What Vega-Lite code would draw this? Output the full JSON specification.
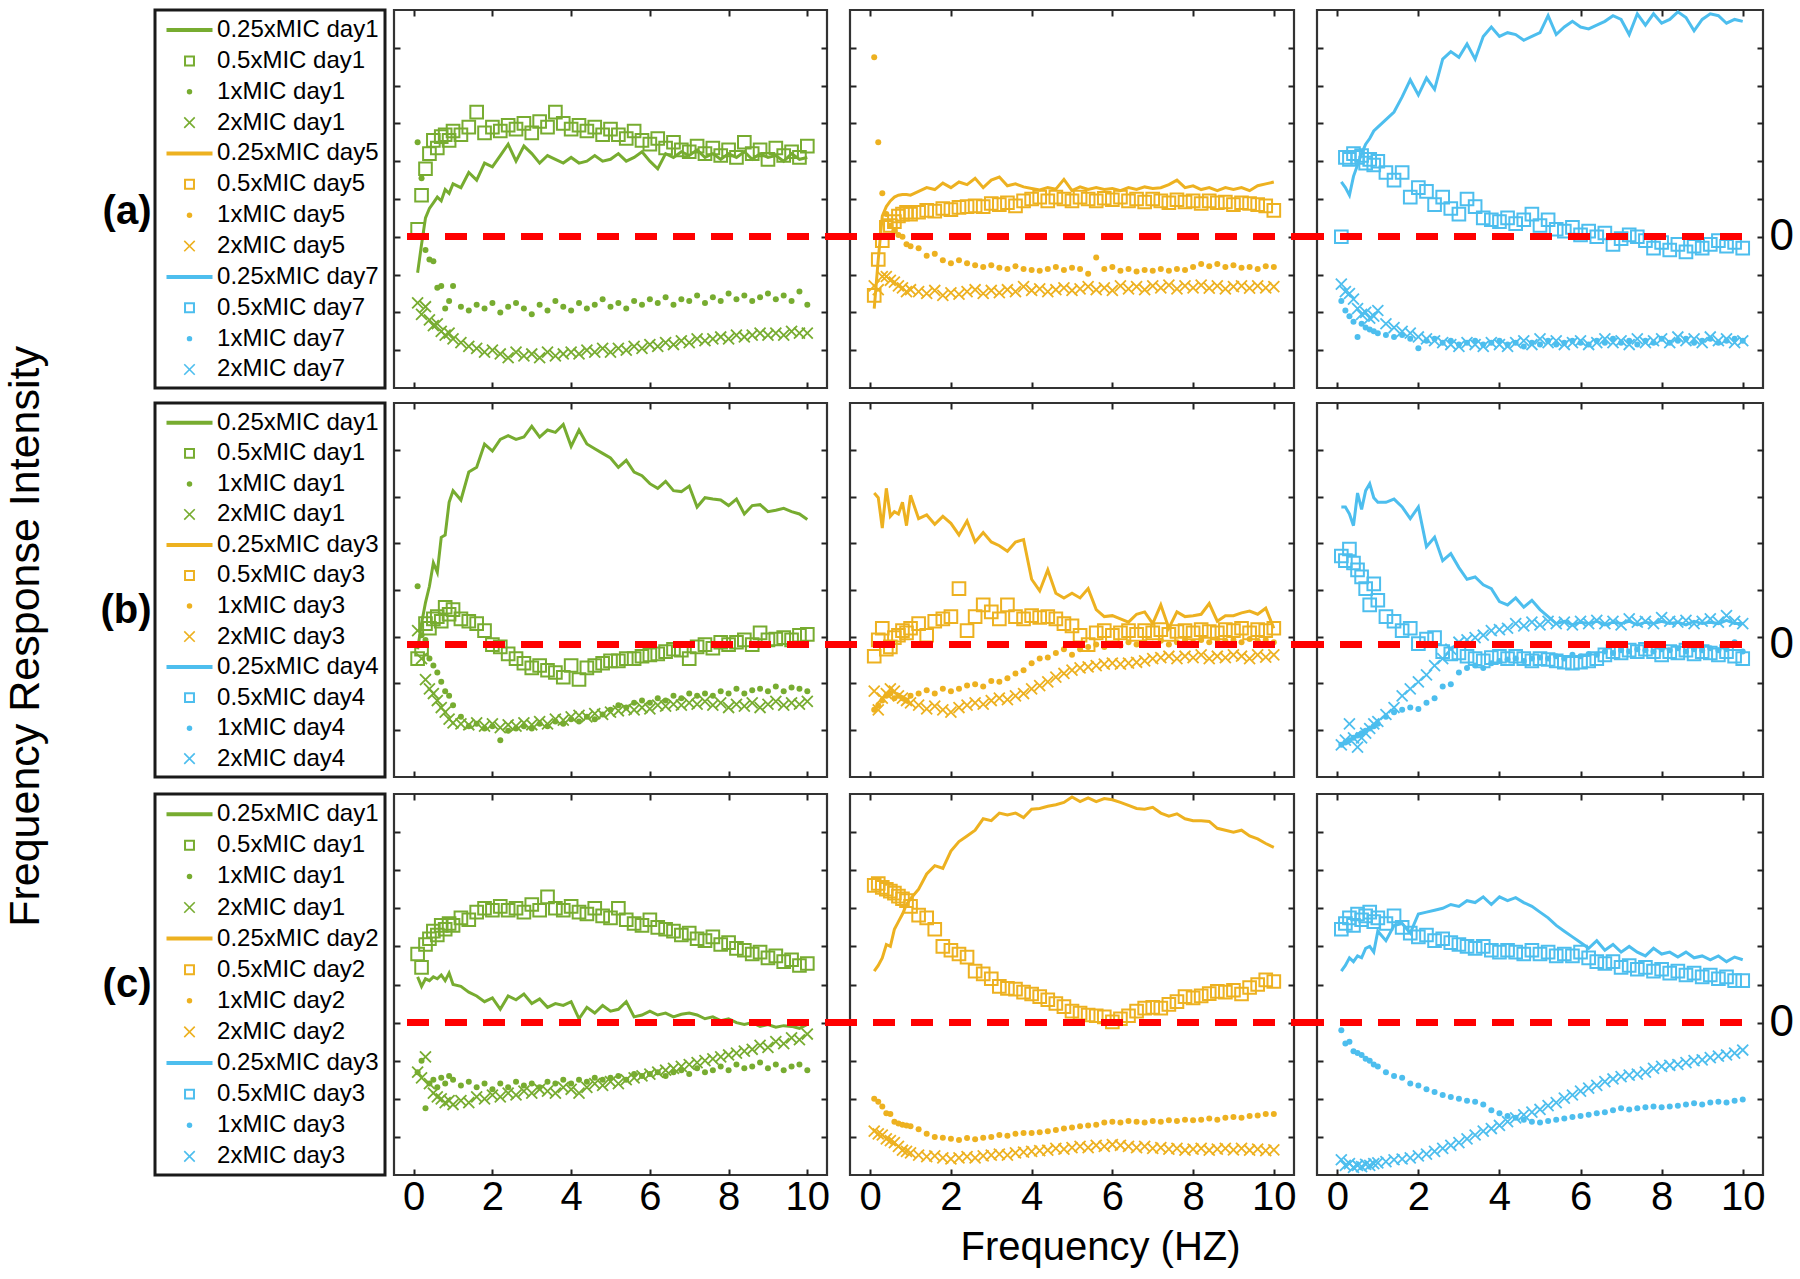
{
"$schema":"https://vega.github.io/schema/vega-lite/v6.json",
"padding":{"left":5,"top":4,"right":0,"bottom":0},
"config":{"font":"Liberation Sans","view":{"stroke":"#333333","strokeWidth":2.2},
"axis":{"domain":false,"grid":false,"labels":false,"ticks":true,"tickSize":-6,"tickWidth":2,"tickColor":"#222222","minExtent":0,"labelColor":"#000000","titleColor":"#000000","labelFont":"Liberation Sans","titleFont":"Liberation Sans"}},
"title":{"text":"Frequency Response Intensity","orient":"left","anchor":"middle","fontSize":43,"fontWeight":"normal","offset":50,"color":"#000000"},
"datasets":{
"legA":[{"i":0,"label":"0.25xMIC day1","kind":"line","set":"left"},{"i":1,"label":"0.5xMIC day1","kind":"square","set":"left"},{"i":2,"label":"1xMIC day1","kind":"dot","set":"left"},{"i":3,"label":"2xMIC day1","kind":"cross","set":"left"},{"i":4,"label":"0.25xMIC day5","kind":"line","set":"middle"},{"i":5,"label":"0.5xMIC day5","kind":"square","set":"middle"},{"i":6,"label":"1xMIC day5","kind":"dot","set":"middle"},{"i":7,"label":"2xMIC day5","kind":"cross","set":"middle"},{"i":8,"label":"0.25xMIC day7","kind":"line","set":"right"},{"i":9,"label":"0.5xMIC day7","kind":"square","set":"right"},{"i":10,"label":"1xMIC day7","kind":"dot","set":"right"},{"i":11,"label":"2xMIC day7","kind":"cross","set":"right"}],
"legB":[{"i":0,"label":"0.25xMIC day1","kind":"line","set":"left"},{"i":1,"label":"0.5xMIC day1","kind":"square","set":"left"},{"i":2,"label":"1xMIC day1","kind":"dot","set":"left"},{"i":3,"label":"2xMIC day1","kind":"cross","set":"left"},{"i":4,"label":"0.25xMIC day3","kind":"line","set":"middle"},{"i":5,"label":"0.5xMIC day3","kind":"square","set":"middle"},{"i":6,"label":"1xMIC day3","kind":"dot","set":"middle"},{"i":7,"label":"2xMIC day3","kind":"cross","set":"middle"},{"i":8,"label":"0.25xMIC day4","kind":"line","set":"right"},{"i":9,"label":"0.5xMIC day4","kind":"square","set":"right"},{"i":10,"label":"1xMIC day4","kind":"dot","set":"right"},{"i":11,"label":"2xMIC day4","kind":"cross","set":"right"}],
"legC":[{"i":0,"label":"0.25xMIC day1","kind":"line","set":"left"},{"i":1,"label":"0.5xMIC day1","kind":"square","set":"left"},{"i":2,"label":"1xMIC day1","kind":"dot","set":"left"},{"i":3,"label":"2xMIC day1","kind":"cross","set":"left"},{"i":4,"label":"0.25xMIC day2","kind":"line","set":"middle"},{"i":5,"label":"0.5xMIC day2","kind":"square","set":"middle"},{"i":6,"label":"1xMIC day2","kind":"dot","set":"middle"},{"i":7,"label":"2xMIC day2","kind":"cross","set":"middle"},{"i":8,"label":"0.25xMIC day3","kind":"line","set":"right"},{"i":9,"label":"0.5xMIC day3","kind":"square","set":"right"},{"i":10,"label":"1xMIC day3","kind":"dot","set":"right"},{"i":11,"label":"2xMIC day3","kind":"cross","set":"right"}],
"a1":[
{"x":0.1,"m025":-0.95,"m05":0.2,"m1":2.5,"m2":-1.75},{"x":0.2,"m025":-0.2,"m05":1.1,"m1":1.55,"m2":-2.05},{"x":0.3,"m025":0.5,"m05":1.8,"m1":-0.35,"m2":-1.85},{"x":0.4,"m025":0.75,"m05":2.2,"m1":-0.6,"m2":-2.2},{"x":0.5,"m025":0.9,"m05":2.55,"m1":-0.65,"m2":-2.35},{"x":0.6,"m025":1.05,"m05":2.35,"m1":-1.35,"m2":-2.3},{"x":0.7,"m025":0.95,"m05":2.65,"m1":-1.3,"m2":-2.5},{"x":0.8,"m025":1.25,"m05":2.7,"m1":-1.9,"m2":-2.6},{"x":0.9,"m025":1.15,"m05":2.55,"m1":-1.7,"m2":-2.55},{"x":1,"m025":1.4,"m05":2.8,"m1":-1.3,"m2":-2.7},
{"x":1.2,"m025":1.3,"m05":2.7,"m1":-1.85,"m2":-2.8},{"x":1.4,"m025":1.7,"m05":2.9,"m1":-1.95,"m2":-2.9},{"x":1.6,"m025":1.5,"m05":3.3,"m1":-1.8,"m2":-2.95},{"x":1.8,"m025":1.95,"m05":2.75,"m1":-1.9,"m2":-3.05},{"x":2,"m025":1.85,"m05":2.9,"m1":-1.75,"m2":-3.0},{"x":2.2,"m025":2.15,"m05":2.8,"m1":-2.0,"m2":-3.1},{"x":2.4,"m025":2.45,"m05":2.95,"m1":-1.85,"m2":-3.2},{"x":2.6,"m025":2.0,"m05":2.85,"m1":-1.75,"m2":-3.05},{"x":2.8,"m025":2.4,"m05":3.0,"m1":-1.9,"m2":-3.15},{"x":3,"m025":2.2,"m05":2.75,"m1":-2.05,"m2":-3.1},
{"x":3.2,"m025":1.95,"m05":3.05,"m1":-1.8,"m2":-3.2},{"x":3.4,"m025":2.15,"m05":2.9,"m1":-1.95,"m2":-3.05},{"x":3.6,"m025":2.05,"m05":3.3,"m1":-1.7,"m2":-3.15},{"x":3.8,"m025":1.95,"m05":3.0,"m1":-1.85,"m2":-3.1},{"x":4,"m025":2.1,"m05":2.85,"m1":-1.95,"m2":-3.05},{"x":4.2,"m025":1.95,"m05":2.95,"m1":-1.75,"m2":-3.1},{"x":4.4,"m025":2.0,"m05":2.8,"m1":-1.9,"m2":-3.0},{"x":4.6,"m025":2.15,"m05":2.9,"m1":-1.8,"m2":-3.05},{"x":4.8,"m025":2.0,"m05":2.7,"m1":-1.65,"m2":-2.95},{"x":5,"m025":2.05,"m05":2.85,"m1":-1.85,"m2":-3.05},
{"x":5.2,"m025":2.2,"m05":2.7,"m1":-1.75,"m2":-2.95},{"x":5.4,"m025":2.0,"m05":2.6,"m1":-1.9,"m2":-3.0},{"x":5.6,"m025":2.1,"m05":2.8,"m1":-1.7,"m2":-2.9},{"x":5.8,"m025":2.25,"m05":2.55,"m1":-1.8,"m2":-2.95},{"x":6,"m025":2.0,"m05":2.45,"m1":-1.65,"m2":-2.85},{"x":6.2,"m025":1.8,"m05":2.6,"m1":-1.75,"m2":-2.9},{"x":6.4,"m025":2.2,"m05":2.35,"m1":-1.6,"m2":-2.8},{"x":6.6,"m025":2.1,"m05":2.5,"m1":-1.8,"m2":-2.85},{"x":6.8,"m025":2.25,"m05":2.3,"m1":-1.65,"m2":-2.75},{"x":7,"m025":2.15,"m05":2.25,"m1":-1.7,"m2":-2.8},
{"x":7.2,"m025":2.3,"m05":2.4,"m1":-1.55,"m2":-2.7},{"x":7.4,"m025":2.1,"m05":2.2,"m1":-1.75,"m2":-2.75},{"x":7.6,"m025":2.2,"m05":2.35,"m1":-1.6,"m2":-2.7},{"x":7.8,"m025":2.05,"m05":2.15,"m1":-1.7,"m2":-2.65},{"x":8,"m025":2.2,"m05":2.3,"m1":-1.5,"m2":-2.7},{"x":8.2,"m025":2.1,"m05":2.1,"m1":-1.65,"m2":-2.6},{"x":8.4,"m025":2.25,"m05":2.5,"m1":-1.55,"m2":-2.65},{"x":8.6,"m025":2.05,"m05":2.2,"m1":-1.7,"m2":-2.6},{"x":8.8,"m025":2.2,"m05":2.3,"m1":-1.6,"m2":-2.55},{"x":9,"m025":2.1,"m05":2.05,"m1":-1.5,"m2":-2.6},
{"x":9.2,"m025":2.15,"m05":2.35,"m1":-1.65,"m2":-2.55},{"x":9.4,"m025":2.0,"m05":2.15,"m1":-1.55,"m2":-2.6},{"x":9.6,"m025":2.2,"m05":2.25,"m1":-1.7,"m2":-2.5},{"x":9.8,"m025":2.05,"m05":2.1,"m1":-1.45,"m2":-2.55},{"x":10,"m025":2.1,"m05":2.4,"m1":-1.8,"m2":-2.55}],
"a2":[
{"x":0.1,"m025":-1.9,"m05":-1.55,"m1":4.75,"m2":-1.3},{"x":0.2,"m025":-0.6,"m05":-0.6,"m1":2.5,"m2":-1.4},{"x":0.3,"m025":0.55,"m05":-0.1,"m1":1.15,"m2":-1.05},{"x":0.4,"m025":0.8,"m05":0.25,"m1":0.6,"m2":-1.05},{"x":0.5,"m025":0.95,"m05":0.3,"m1":0.3,"m2":-1.15},{"x":0.6,"m025":1.05,"m05":0.4,"m1":0.15,"m2":-1.2},{"x":0.7,"m025":1.1,"m05":0.55,"m1":0.05,"m2":-1.3},{"x":0.8,"m025":1.12,"m05":0.6,"m1":0.0,"m2":-1.35},{"x":0.9,"m025":1.12,"m05":0.65,"m1":-0.2,"m2":-1.45},{"x":1,"m025":1.1,"m05":0.6,"m1":-0.25,"m2":-1.4},
{"x":1.2,"m025":1.2,"m05":0.65,"m1":-0.3,"m2":-1.45},{"x":1.4,"m025":1.3,"m05":0.7,"m1":-0.5,"m2":-1.5},{"x":1.6,"m025":1.25,"m05":0.68,"m1":-0.45,"m2":-1.42},{"x":1.8,"m025":1.42,"m05":0.75,"m1":-0.62,"m2":-1.55},{"x":2,"m025":1.3,"m05":0.72,"m1":-0.7,"m2":-1.48},{"x":2.2,"m025":1.45,"m05":0.78,"m1":-0.62,"m2":-1.52},{"x":2.4,"m025":1.38,"m05":0.8,"m1":-0.7,"m2":-1.45},{"x":2.6,"m025":1.55,"m05":0.82,"m1":-0.75,"m2":-1.4},{"x":2.8,"m025":1.3,"m05":0.8,"m1":-0.8,"m2":-1.5},{"x":3,"m025":1.5,"m05":0.88,"m1":-0.75,"m2":-1.42},
{"x":3.2,"m025":1.58,"m05":0.85,"m1":-0.82,"m2":-1.48},{"x":3.4,"m025":1.35,"m05":0.9,"m1":-0.85,"m2":-1.4},{"x":3.6,"m025":1.4,"m05":0.82,"m1":-0.78,"m2":-1.45},{"x":3.8,"m025":1.32,"m05":0.95,"m1":-0.85,"m2":-1.32},{"x":4,"m025":1.28,"m05":1.0,"m1":-0.88,"m2":-1.42},{"x":4.2,"m025":1.24,"m05":1.05,"m1":-0.9,"m2":-1.38},{"x":4.4,"m025":1.3,"m05":0.95,"m1":-0.85,"m2":-1.45},{"x":4.6,"m025":1.26,"m05":1.05,"m1":-0.8,"m2":-1.4},{"x":4.8,"m025":1.52,"m05":1.0,"m1":-0.88,"m2":-1.35},{"x":5,"m025":1.22,"m05":0.95,"m1":-0.82,"m2":-1.42},
{"x":5.2,"m025":1.32,"m05":1.05,"m1":-0.85,"m2":-1.38},{"x":5.4,"m025":1.25,"m05":1.0,"m1":-0.98,"m2":-1.32},{"x":5.6,"m025":1.3,"m05":0.95,"m1":-0.55,"m2":-1.4},{"x":5.8,"m025":1.25,"m05":1.02,"m1":-0.85,"m2":-1.35},{"x":6,"m025":1.28,"m05":0.98,"m1":-0.8,"m2":-1.42},{"x":6.2,"m025":1.22,"m05":1.05,"m1":-0.9,"m2":-1.3},{"x":6.4,"m025":1.3,"m05":0.95,"m1":-0.85,"m2":-1.38},{"x":6.6,"m025":1.25,"m05":1.0,"m1":-0.92,"m2":-1.32},{"x":6.8,"m025":1.32,"m05":0.92,"m1":-0.88,"m2":-1.4},{"x":7,"m025":1.28,"m05":1.0,"m1":-0.9,"m2":-1.3},
{"x":7.2,"m025":1.3,"m05":0.95,"m1":-0.85,"m2":-1.35},{"x":7.4,"m025":1.38,"m05":0.9,"m1":-0.9,"m2":-1.28},{"x":7.6,"m025":1.5,"m05":0.98,"m1":-0.85,"m2":-1.38},{"x":7.8,"m025":1.3,"m05":0.92,"m1":-0.88,"m2":-1.3},{"x":8,"m025":1.35,"m05":0.95,"m1":-0.8,"m2":-1.35},{"x":8.2,"m025":1.25,"m05":0.88,"m1":-0.72,"m2":-1.28},{"x":8.4,"m025":1.3,"m05":0.95,"m1":-0.78,"m2":-1.36},{"x":8.6,"m025":1.22,"m05":0.9,"m1":-0.72,"m2":-1.3},{"x":8.8,"m025":1.3,"m05":0.92,"m1":-0.8,"m2":-1.38},{"x":9,"m025":1.25,"m05":0.85,"m1":-0.75,"m2":-1.32},
{"x":9.2,"m025":1.3,"m05":0.9,"m1":-0.82,"m2":-1.3},{"x":9.4,"m025":1.22,"m05":0.88,"m1":-0.8,"m2":-1.36},{"x":9.6,"m025":1.35,"m05":0.85,"m1":-0.85,"m2":-1.3},{"x":9.8,"m025":1.4,"m05":0.82,"m1":-0.78,"m2":-1.35},{"x":10,"m025":1.45,"m05":0.7,"m1":-0.8,"m2":-1.32}],
"a3":[
{"x":0.1,"m025":1.45,"m05":0.0,"m1":-1.7,"m2":-1.25},{"x":0.2,"m025":1.3,"m05":2.1,"m1":-1.95,"m2":-1.45},{"x":0.3,"m025":1.1,"m05":2.05,"m1":-2.1,"m2":-1.5},{"x":0.4,"m025":1.6,"m05":2.2,"m1":-2.25,"m2":-1.65},{"x":0.5,"m025":1.9,"m05":2.1,"m1":-2.65,"m2":-1.9},{"x":0.6,"m025":2.2,"m05":2.15,"m1":-2.3,"m2":-2.05},{"x":0.7,"m025":2.45,"m05":1.95,"m1":-2.4,"m2":-2.0},{"x":0.8,"m025":2.6,"m05":2.05,"m1":-2.45,"m2":-2.15},{"x":0.9,"m025":2.8,"m05":1.9,"m1":-2.5,"m2":-2.1},{"x":1,"m025":2.9,"m05":2.0,"m1":-2.55,"m2":-1.95},
{"x":1.2,"m025":3.1,"m05":1.7,"m1":-2.6,"m2":-2.3},{"x":1.4,"m025":3.3,"m05":1.5,"m1":-2.65,"m2":-2.4},{"x":1.6,"m025":3.7,"m05":1.7,"m1":-2.6,"m2":-2.5},{"x":1.8,"m025":4.15,"m05":1.05,"m1":-2.7,"m2":-2.55},{"x":2,"m025":3.75,"m05":1.3,"m1":-2.95,"m2":-2.65},{"x":2.2,"m025":4.2,"m05":1.2,"m1":-2.75,"m2":-2.7},{"x":2.4,"m025":3.9,"m05":0.85,"m1":-2.7,"m2":-2.75},{"x":2.6,"m025":4.7,"m05":1.05,"m1":-2.8,"m2":-2.8},{"x":2.8,"m025":4.9,"m05":0.75,"m1":-2.75,"m2":-2.85},{"x":3,"m025":4.75,"m05":0.6,"m1":-2.85,"m2":-2.9},
{"x":3.2,"m025":5.1,"m05":1.0,"m1":-2.8,"m2":-2.8},{"x":3.4,"m025":4.7,"m05":0.8,"m1":-2.75,"m2":-2.85},{"x":3.6,"m025":5.3,"m05":0.5,"m1":-2.85,"m2":-2.9},{"x":3.8,"m025":5.55,"m05":0.45,"m1":-2.8,"m2":-2.8},{"x":4,"m025":5.3,"m05":0.4,"m1":-2.75,"m2":-2.85},{"x":4.2,"m025":5.4,"m05":0.5,"m1":-2.85,"m2":-2.9},{"x":4.4,"m025":5.35,"m05":0.35,"m1":-2.8,"m2":-2.8},{"x":4.6,"m025":5.2,"m05":0.45,"m1":-2.9,"m2":-2.75},{"x":4.8,"m025":5.3,"m05":0.6,"m1":-2.8,"m2":-2.85},{"x":5,"m025":5.4,"m05":0.3,"m1":-2.85,"m2":-2.7},
{"x":5.2,"m025":5.85,"m05":0.45,"m1":-2.75,"m2":-2.8},{"x":5.4,"m025":5.35,"m05":0.2,"m1":-2.85,"m2":-2.75},{"x":5.6,"m025":5.55,"m05":0.15,"m1":-2.8,"m2":-2.85},{"x":5.8,"m025":5.7,"m05":0.25,"m1":-2.75,"m2":-2.8},{"x":6,"m025":5.55,"m05":0.05,"m1":-2.8,"m2":-2.75},{"x":6.2,"m025":5.5,"m05":0.15,"m1":-2.85,"m2":-2.85},{"x":6.4,"m025":5.6,"m05":0.0,"m1":-2.75,"m2":-2.8},{"x":6.6,"m025":5.7,"m05":0.1,"m1":-2.8,"m2":-2.7},{"x":6.8,"m025":5.85,"m05":-0.2,"m1":-2.7,"m2":-2.8},{"x":7,"m025":5.75,"m05":-0.05,"m1":-2.8,"m2":-2.75},
{"x":7.2,"m025":5.35,"m05":0.05,"m1":-2.75,"m2":-2.85},{"x":7.4,"m025":5.9,"m05":0.0,"m1":-2.85,"m2":-2.7},{"x":7.6,"m025":5.6,"m05":-0.1,"m1":-2.75,"m2":-2.8},{"x":7.8,"m025":5.9,"m05":-0.3,"m1":-2.8,"m2":-2.75},{"x":8,"m025":5.65,"m05":-0.15,"m1":-2.7,"m2":-2.7},{"x":8.2,"m025":5.75,"m05":-0.35,"m1":-2.8,"m2":-2.8},{"x":8.4,"m025":5.95,"m05":-0.2,"m1":-2.75,"m2":-2.65},{"x":8.6,"m025":5.8,"m05":-0.4,"m1":-2.7,"m2":-2.75},{"x":8.8,"m025":5.45,"m05":-0.25,"m1":-2.8,"m2":-2.7},{"x":9,"m025":5.75,"m05":-0.3,"m1":-2.75,"m2":-2.8},
{"x":9.2,"m025":5.9,"m05":-0.2,"m1":-2.7,"m2":-2.65},{"x":9.4,"m025":5.85,"m05":-0.1,"m1":-2.8,"m2":-2.75},{"x":9.6,"m025":5.65,"m05":-0.25,"m1":-2.75,"m2":-2.7},{"x":9.8,"m025":5.75,"m05":-0.15,"m1":-2.7,"m2":-2.8},{"x":10,"m025":5.7,"m05":-0.3,"m1":-2.75,"m2":-2.75}],
"b1":[
{"x":0.1,"m025":-0.1,"m05":-0.3,"m1":1.25,"m2":0.3},{"x":0.2,"m025":0.45,"m05":-0.1,"m1":0.2,"m2":-0.3},{"x":0.3,"m025":0.9,"m05":0.45,"m1":0.1,"m2":-0.75},{"x":0.4,"m025":1.25,"m05":0.35,"m1":-0.3,"m2":-0.95},{"x":0.5,"m025":1.75,"m05":0.55,"m1":-0.45,"m2":-1.05},{"x":0.6,"m025":1.55,"m05":0.6,"m1":-0.6,"m2":-1.2},{"x":0.7,"m025":2.3,"m05":0.5,"m1":-0.8,"m2":-1.35},{"x":0.8,"m025":2.35,"m05":0.8,"m1":-1.0,"m2":-1.45},{"x":0.9,"m025":3.05,"m05":0.65,"m1":-1.1,"m2":-1.6},{"x":1,"m025":3.3,"m05":0.75,"m1":-1.3,"m2":-1.68},
{"x":1.2,"m025":3.1,"m05":0.55,"m1":-1.55,"m2":-1.7},{"x":1.4,"m025":3.7,"m05":0.5,"m1":-1.75,"m2":-1.72},{"x":1.6,"m025":3.8,"m05":0.45,"m1":-1.7,"m2":-1.68},{"x":1.8,"m025":4.3,"m05":0.3,"m1":-1.8,"m2":-1.75},{"x":2,"m025":4.15,"m05":0.0,"m1":-1.75,"m2":-1.7},{"x":2.2,"m025":4.4,"m05":-0.05,"m1":-2.05,"m2":-1.78},{"x":2.4,"m025":4.48,"m05":-0.2,"m1":-1.85,"m2":-1.72},{"x":2.6,"m025":4.4,"m05":-0.3,"m1":-1.8,"m2":-1.75},{"x":2.8,"m025":4.45,"m05":-0.4,"m1":-1.75,"m2":-1.68},{"x":3,"m025":4.68,"m05":-0.5,"m1":-1.8,"m2":-1.72},
{"x":3.2,"m025":4.45,"m05":-0.45,"m1":-1.7,"m2":-1.65},{"x":3.4,"m025":4.6,"m05":-0.55,"m1":-1.75,"m2":-1.7},{"x":3.6,"m025":4.55,"m05":-0.6,"m1":-1.65,"m2":-1.6},{"x":3.8,"m025":4.72,"m05":-0.7,"m1":-1.7,"m2":-1.62},{"x":4,"m025":4.25,"m05":-0.45,"m1":-1.6,"m2":-1.55},{"x":4.2,"m025":4.6,"m05":-0.75,"m1":-1.65,"m2":-1.52},{"x":4.4,"m025":4.3,"m05":-0.5,"m1":-1.55,"m2":-1.55},{"x":4.6,"m025":4.2,"m05":-0.45,"m1":-1.6,"m2":-1.48},{"x":4.8,"m025":4.1,"m05":-0.4,"m1":-1.5,"m2":-1.5},{"x":5,"m025":4.0,"m05":-0.35,"m1":-1.4,"m2":-1.45},
{"x":5.2,"m025":3.8,"m05":-0.35,"m1":-1.3,"m2":-1.42},{"x":5.4,"m025":3.95,"m05":-0.3,"m1":-1.35,"m2":-1.38},{"x":5.6,"m025":3.7,"m05":-0.3,"m1":-1.25,"m2":-1.4},{"x":5.8,"m025":3.62,"m05":-0.25,"m1":-1.2,"m2":-1.35},{"x":6,"m025":3.45,"m05":-0.22,"m1":-1.25,"m2":-1.38},{"x":6.2,"m025":3.35,"m05":-0.2,"m1":-1.15,"m2":-1.3},{"x":6.4,"m025":3.5,"m05":-0.15,"m1":-1.2,"m2":-1.32},{"x":6.6,"m025":3.3,"m05":-0.1,"m1":-1.1,"m2":-1.28},{"x":6.8,"m025":3.28,"m05":-0.12,"m1":-1.15,"m2":-1.3},{"x":7,"m025":3.4,"m05":-0.3,"m1":-1.05,"m2":-1.25},
{"x":7.2,"m025":2.95,"m05":-0.05,"m1":-1.1,"m2":-1.28},{"x":7.4,"m025":3.15,"m05":0.0,"m1":-1.05,"m2":-1.22},{"x":7.6,"m025":3.12,"m05":-0.08,"m1":-1.1,"m2":-1.3},{"x":7.8,"m025":3.1,"m05":0.05,"m1":-1.0,"m2":-1.25},{"x":8,"m025":2.98,"m05":0.0,"m1":-1.05,"m2":-1.35},{"x":8.2,"m025":3.12,"m05":0.05,"m1":-0.95,"m2":-1.28},{"x":8.4,"m025":2.8,"m05":0.1,"m1":-1.05,"m2":-1.32},{"x":8.6,"m025":2.98,"m05":0.0,"m1":-0.98,"m2":-1.25},{"x":8.8,"m025":3.0,"m05":0.25,"m1":-0.95,"m2":-1.35},{"x":9,"m025":2.85,"m05":0.1,"m1":-1.0,"m2":-1.28},
{"x":9.2,"m025":2.88,"m05":0.12,"m1":-0.9,"m2":-1.22},{"x":9.4,"m025":2.92,"m05":0.15,"m1":-1.0,"m2":-1.3},{"x":9.6,"m025":2.85,"m05":0.1,"m1":-0.92,"m2":-1.25},{"x":9.8,"m025":2.8,"m05":0.2,"m1":-0.95,"m2":-1.28},{"x":10,"m025":2.68,"m05":0.22,"m1":-1.0,"m2":-1.22}],
"b2":[
{"x":0.1,"m025":3.25,"m05":-0.25,"m1":-1.4,"m2":-1.0},{"x":0.2,"m025":3.15,"m05":0.1,"m1":-1.3,"m2":-1.4},{"x":0.3,"m025":2.5,"m05":0.35,"m1":-1.2,"m2":-1.15},{"x":0.4,"m025":3.35,"m05":-0.1,"m1":-1.1,"m2":-1.05},{"x":0.5,"m025":2.75,"m05":-0.05,"m1":-1.05,"m2":-0.95},{"x":0.6,"m025":2.85,"m05":0.15,"m1":-1.15,"m2":-1.0},{"x":0.7,"m025":2.8,"m05":0.2,"m1":-1.1,"m2":-1.1},{"x":0.8,"m025":3.05,"m05":0.3,"m1":-1.15,"m2":-1.15},{"x":0.9,"m025":2.55,"m05":0.25,"m1":-1.2,"m2":-1.2},{"x":1,"m025":3.2,"m05":0.35,"m1":-1.1,"m2":-1.25},
{"x":1.2,"m025":2.7,"m05":0.45,"m1":-1.05,"m2":-1.3},{"x":1.4,"m025":2.78,"m05":0.2,"m1":-0.98,"m2":-1.38},{"x":1.6,"m025":2.58,"m05":0.5,"m1":-1.05,"m2":-1.32},{"x":1.8,"m025":2.75,"m05":0.55,"m1":-0.95,"m2":-1.4},{"x":2,"m025":2.6,"m05":0.6,"m1":-1.0,"m2":-1.45},{"x":2.2,"m025":2.35,"m05":1.2,"m1":-0.95,"m2":-1.35},{"x":2.4,"m025":2.65,"m05":0.3,"m1":-0.88,"m2":-1.3},{"x":2.6,"m025":2.2,"m05":0.6,"m1":-0.85,"m2":-1.25},{"x":2.8,"m025":2.4,"m05":0.85,"m1":-0.9,"m2":-1.28},{"x":3,"m025":2.2,"m05":0.7,"m1":-0.78,"m2":-1.2},
{"x":3.2,"m025":2.12,"m05":0.55,"m1":-0.8,"m2":-1.15},{"x":3.4,"m025":2.0,"m05":0.85,"m1":-0.72,"m2":-1.18},{"x":3.6,"m025":2.2,"m05":0.6,"m1":-0.62,"m2":-1.1},{"x":3.8,"m025":2.25,"m05":0.55,"m1":-0.55,"m2":-1.05},{"x":4,"m025":1.4,"m05":0.62,"m1":-0.4,"m2":-0.95},{"x":4.2,"m025":1.15,"m05":0.58,"m1":-0.3,"m2":-0.88},{"x":4.4,"m025":1.6,"m05":0.6,"m1":-0.28,"m2":-0.8},{"x":4.6,"m025":1.1,"m05":0.55,"m1":-0.18,"m2":-0.7},{"x":4.8,"m025":1.0,"m05":0.45,"m1":-0.1,"m2":-0.62},{"x":5,"m025":1.1,"m05":0.4,"m1":-0.22,"m2":-0.55},
{"x":5.2,"m025":1.0,"m05":0.2,"m1":-0.1,"m2":-0.5},{"x":5.4,"m025":1.2,"m05":0.0,"m1":-0.05,"m2":-0.48},{"x":5.6,"m025":0.75,"m05":0.25,"m1":0.0,"m2":-0.45},{"x":5.8,"m025":0.6,"m05":0.3,"m1":-0.05,"m2":-0.42},{"x":6,"m025":0.62,"m05":0.2,"m1":0.02,"m2":-0.4},{"x":6.2,"m025":0.55,"m05":0.25,"m1":-0.02,"m2":-0.42},{"x":6.4,"m025":0.48,"m05":0.3,"m1":0.05,"m2":-0.4},{"x":6.6,"m025":0.65,"m05":0.22,"m1":0.0,"m2":-0.38},{"x":6.8,"m025":0.7,"m05":0.3,"m1":0.05,"m2":-0.35},{"x":7,"m025":0.45,"m05":0.25,"m1":0.02,"m2":-0.3},
{"x":7.2,"m025":0.85,"m05":0.32,"m1":0.08,"m2":-0.28},{"x":7.4,"m025":0.35,"m05":0.22,"m1":0.0,"m2":-0.25},{"x":7.6,"m025":0.7,"m05":0.28,"m1":0.05,"m2":-0.3},{"x":7.8,"m025":0.6,"m05":0.3,"m1":0.1,"m2":-0.25},{"x":8,"m025":0.62,"m05":0.25,"m1":0.05,"m2":-0.28},{"x":8.2,"m025":0.65,"m05":0.32,"m1":0.1,"m2":-0.22},{"x":8.4,"m025":0.88,"m05":0.28,"m1":0.05,"m2":-0.3},{"x":8.6,"m025":0.5,"m05":0.25,"m1":0.12,"m2":-0.25},{"x":8.8,"m025":0.62,"m05":0.32,"m1":0.08,"m2":-0.28},{"x":9,"m025":0.62,"m05":0.3,"m1":0.1,"m2":-0.22},
{"x":9.2,"m025":0.68,"m05":0.35,"m1":0.05,"m2":-0.25},{"x":9.4,"m025":0.72,"m05":0.25,"m1":0.12,"m2":-0.3},{"x":9.6,"m025":0.65,"m05":0.32,"m1":0.08,"m2":-0.22},{"x":9.8,"m025":0.78,"m05":0.3,"m1":0.1,"m2":-0.27},{"x":10,"m025":0.35,"m05":0.35,"m1":0.05,"m2":-0.22}],
"b3":[
{"x":0.1,"m025":2.95,"m05":1.9,"m1":-2.15,"m2":-2.15},{"x":0.2,"m025":2.95,"m05":1.8,"m1":-2.1,"m2":-2.05},{"x":0.3,"m025":2.8,"m05":2.05,"m1":-2.05,"m2":-1.7},{"x":0.4,"m025":2.55,"m05":1.75,"m1":-2.0,"m2":-2.0},{"x":0.5,"m025":3.25,"m05":1.6,"m1":-1.95,"m2":-2.2},{"x":0.6,"m025":2.9,"m05":1.45,"m1":-1.9,"m2":-2.0},{"x":0.7,"m025":3.3,"m05":1.2,"m1":-1.85,"m2":-1.9},{"x":0.8,"m025":3.45,"m05":0.85,"m1":-1.8,"m2":-1.8},{"x":0.9,"m025":3.15,"m05":1.3,"m1":-1.75,"m2":-1.7},{"x":1,"m025":3.05,"m05":0.95,"m1":-1.7,"m2":-1.65},
{"x":1.2,"m025":3.05,"m05":0.6,"m1":-1.55,"m2":-1.5},{"x":1.4,"m025":3.12,"m05":0.5,"m1":-1.45,"m2":-1.35},{"x":1.6,"m025":2.95,"m05":0.3,"m1":-1.4,"m2":-1.1},{"x":1.8,"m025":2.7,"m05":0.35,"m1":-1.35,"m2":-0.95},{"x":2,"m025":2.95,"m05":0.02,"m1":-1.38,"m2":-0.8},{"x":2.2,"m025":2.1,"m05":0.12,"m1":-1.25,"m2":-0.65},{"x":2.4,"m025":2.3,"m05":0.15,"m1":-1.15,"m2":-0.45},{"x":2.6,"m025":1.8,"m05":-0.15,"m1":-0.9,"m2":-0.3},{"x":2.8,"m025":1.95,"m05":-0.2,"m1":-0.85,"m2":-0.1},{"x":3,"m025":1.65,"m05":-0.18,"m1":-0.6,"m2":0.05},
{"x":3.2,"m025":1.4,"m05":-0.25,"m1":-0.5,"m2":0.1},{"x":3.4,"m025":1.45,"m05":-0.3,"m1":-0.45,"m2":0.15},{"x":3.6,"m025":1.28,"m05":-0.35,"m1":-0.5,"m2":0.2},{"x":3.8,"m025":1.2,"m05":-0.28,"m1":-0.4,"m2":0.3},{"x":4,"m025":0.92,"m05":-0.25,"m1":-0.35,"m2":0.32},{"x":4.2,"m025":0.85,"m05":-0.3,"m1":-0.32,"m2":0.35},{"x":4.4,"m025":1.0,"m05":-0.25,"m1":-0.3,"m2":0.45},{"x":4.6,"m025":0.8,"m05":-0.3,"m1":-0.35,"m2":0.4},{"x":4.8,"m025":0.95,"m05":-0.35,"m1":-0.3,"m2":0.48},{"x":5,"m025":0.75,"m05":-0.3,"m1":-0.28,"m2":0.42},
{"x":5.2,"m025":0.6,"m05":-0.32,"m1":-0.3,"m2":0.5},{"x":5.4,"m025":0.45,"m05":-0.35,"m1":-0.25,"m2":0.45},{"x":5.6,"m025":0.5,"m05":-0.38,"m1":-0.3,"m2":0.48},{"x":5.8,"m025":0.42,"m05":-0.4,"m1":-0.22,"m2":0.42},{"x":6,"m025":0.48,"m05":-0.38,"m1":-0.25,"m2":0.5},{"x":6.2,"m025":0.45,"m05":-0.35,"m1":-0.2,"m2":0.45},{"x":6.4,"m025":0.5,"m05":-0.3,"m1":-0.22,"m2":0.52},{"x":6.6,"m025":0.42,"m05":-0.22,"m1":-0.15,"m2":0.45},{"x":6.8,"m025":0.48,"m05":-0.15,"m1":-0.18,"m2":0.5},{"x":7,"m025":0.45,"m05":-0.18,"m1":-0.12,"m2":0.42},
{"x":7.2,"m025":0.5,"m05":-0.12,"m1":-0.15,"m2":0.55},{"x":7.4,"m025":0.42,"m05":-0.15,"m1":-0.1,"m2":0.48},{"x":7.6,"m025":0.48,"m05":-0.1,"m1":-0.12,"m2":0.5},{"x":7.8,"m025":0.45,"m05":-0.15,"m1":-0.15,"m2":0.45},{"x":8,"m025":0.5,"m05":-0.22,"m1":-0.1,"m2":0.58},{"x":8.2,"m025":0.45,"m05":-0.15,"m1":-0.12,"m2":0.5},{"x":8.4,"m025":0.48,"m05":-0.18,"m1":-0.08,"m2":0.48},{"x":8.6,"m025":0.42,"m05":-0.12,"m1":-0.15,"m2":0.52},{"x":8.8,"m025":0.5,"m05":-0.2,"m1":-0.1,"m2":0.45},{"x":9,"m025":0.45,"m05":-0.15,"m1":-0.12,"m2":0.5},
{"x":9.2,"m025":0.48,"m05":-0.18,"m1":-0.08,"m2":0.55},{"x":9.4,"m025":0.45,"m05":-0.22,"m1":-0.12,"m2":0.48},{"x":9.6,"m025":0.52,"m05":-0.15,"m1":-0.1,"m2":0.62},{"x":9.8,"m025":0.45,"m05":-0.25,"m1":0.05,"m2":0.5},{"x":10,"m025":0.45,"m05":-0.3,"m1":-0.15,"m2":0.45}],
"c1":[
{"x":0.1,"m025":1.2,"m05":1.8,"m1":-1.3,"m2":-1.3},{"x":0.2,"m025":0.95,"m05":1.45,"m1":-1.0,"m2":-1.45},{"x":0.3,"m025":1.15,"m05":2.05,"m1":-2.25,"m2":-0.9},{"x":0.4,"m025":1.1,"m05":2.2,"m1":-1.6,"m2":-1.6},{"x":0.5,"m025":1.2,"m05":2.4,"m1":-1.5,"m2":-1.85},{"x":0.6,"m025":1.15,"m05":2.3,"m1":-1.7,"m2":-1.95},{"x":0.7,"m025":1.25,"m05":2.55,"m1":-1.45,"m2":-2.0},{"x":0.8,"m025":1.1,"m05":2.45,"m1":-1.6,"m2":-2.1},{"x":0.9,"m025":1.3,"m05":2.6,"m1":-1.4,"m2":-2.05},{"x":1,"m025":1.0,"m05":2.55,"m1":-1.5,"m2":-2.15},
{"x":1.2,"m025":0.95,"m05":2.75,"m1":-1.65,"m2":-2.05},{"x":1.4,"m025":0.8,"m05":2.7,"m1":-1.55,"m2":-2.1},{"x":1.6,"m025":0.7,"m05":2.9,"m1":-1.7,"m2":-1.95},{"x":1.8,"m025":0.55,"m05":3.0,"m1":-1.6,"m2":-2.0},{"x":2,"m025":0.65,"m05":2.95,"m1":-1.75,"m2":-1.9},{"x":2.2,"m025":0.35,"m05":3.05,"m1":-1.6,"m2":-1.95},{"x":2.4,"m025":0.7,"m05":2.95,"m1":-1.7,"m2":-1.85},{"x":2.6,"m025":0.6,"m05":3.0,"m1":-1.55,"m2":-1.9},{"x":2.8,"m025":0.75,"m05":2.9,"m1":-1.65,"m2":-1.8},{"x":3,"m025":0.5,"m05":3.1,"m1":-1.6,"m2":-1.85},
{"x":3.2,"m025":0.62,"m05":2.95,"m1":-1.7,"m2":-1.75},{"x":3.4,"m025":0.4,"m05":3.3,"m1":-1.55,"m2":-1.8},{"x":3.6,"m025":0.5,"m05":3.0,"m1":-1.6,"m2":-1.85},{"x":3.8,"m025":0.45,"m05":2.95,"m1":-1.5,"m2":-1.7},{"x":4,"m025":0.55,"m05":3.05,"m1":-1.6,"m2":-1.75},{"x":4.2,"m025":0.1,"m05":2.9,"m1":-1.5,"m2":-1.85},{"x":4.4,"m025":0.4,"m05":2.85,"m1":-1.55,"m2":-1.7},{"x":4.6,"m025":0.25,"m05":3.0,"m1":-1.45,"m2":-1.6},{"x":4.8,"m025":0.45,"m05":2.8,"m1":-1.5,"m2":-1.65},{"x":5,"m025":0.3,"m05":2.75,"m1":-1.45,"m2":-1.55},
{"x":5.2,"m025":0.35,"m05":3.0,"m1":-1.4,"m2":-1.6},{"x":5.4,"m025":0.55,"m05":2.7,"m1":-1.5,"m2":-1.5},{"x":5.6,"m025":0.15,"m05":2.6,"m1":-1.35,"m2":-1.45},{"x":5.8,"m025":0.2,"m05":2.55,"m1":-1.4,"m2":-1.4},{"x":6,"m025":0.3,"m05":2.7,"m1":-1.35,"m2":-1.35},{"x":6.2,"m025":0.2,"m05":2.5,"m1":-1.3,"m2":-1.3},{"x":6.4,"m025":0.25,"m05":2.45,"m1":-1.4,"m2":-1.25},{"x":6.6,"m025":0.15,"m05":2.4,"m1":-1.3,"m2":-1.2},{"x":6.8,"m025":0.22,"m05":2.3,"m1":-1.25,"m2":-1.15},{"x":7,"m025":0.25,"m05":2.35,"m1":-1.35,"m2":-1.1},
{"x":7.2,"m025":0.2,"m05":2.2,"m1":-1.2,"m2":-1.05},{"x":7.4,"m025":0.1,"m05":2.15,"m1":-1.3,"m2":-1.0},{"x":7.6,"m025":0.15,"m05":2.25,"m1":-1.25,"m2":-0.95},{"x":7.8,"m025":0.05,"m05":2.05,"m1":-1.15,"m2":-0.9},{"x":8,"m025":0.1,"m05":2.1,"m1":-1.25,"m2":-0.85},{"x":8.2,"m025":0.0,"m05":1.95,"m1":-1.1,"m2":-0.8},{"x":8.4,"m025":-0.05,"m05":1.9,"m1":-1.2,"m2":-0.75},{"x":8.6,"m025":0.0,"m05":1.8,"m1":-1.15,"m2":-0.7},{"x":8.8,"m025":-0.1,"m05":1.85,"m1":-1.05,"m2":-0.6},{"x":9,"m025":-0.05,"m05":1.7,"m1":-1.2,"m2":-0.65},
{"x":9.2,"m025":-0.12,"m05":1.75,"m1":-1.1,"m2":-0.5},{"x":9.4,"m025":-0.08,"m05":1.6,"m1":-1.25,"m2":-0.55},{"x":9.6,"m025":-0.1,"m05":1.65,"m1":-1.15,"m2":-0.4},{"x":9.8,"m025":-0.15,"m05":1.5,"m1":-1.1,"m2":-0.45},{"x":10,"m025":-0.05,"m05":1.55,"m1":-1.25,"m2":-0.3}],
"c2":[
{"x":0.1,"m025":1.35,"m05":3.6,"m1":-2.0,"m2":-2.85},{"x":0.2,"m025":1.5,"m05":3.65,"m1":-2.08,"m2":-2.92},{"x":0.3,"m025":1.7,"m05":3.55,"m1":-2.2,"m2":-2.95},{"x":0.4,"m025":2.05,"m05":3.5,"m1":-2.38,"m2":-3.05},{"x":0.5,"m025":2.0,"m05":3.45,"m1":-2.4,"m2":-3.1},{"x":0.6,"m025":2.45,"m05":3.4,"m1":-2.6,"m2":-3.15},{"x":0.7,"m025":2.65,"m05":3.32,"m1":-2.65,"m2":-3.25},{"x":0.8,"m025":2.85,"m05":3.25,"m1":-2.68,"m2":-3.35},{"x":0.9,"m025":3.1,"m05":3.2,"m1":-2.7,"m2":-3.38},{"x":1,"m025":3.25,"m05":3.05,"m1":-2.72,"m2":-3.42},
{"x":1.2,"m025":3.5,"m05":2.82,"m1":-2.8,"m2":-3.48},{"x":1.4,"m025":3.9,"m05":2.75,"m1":-2.92,"m2":-3.52},{"x":1.6,"m025":4.12,"m05":2.45,"m1":-3.0,"m2":-3.5},{"x":1.8,"m025":4.05,"m05":2.0,"m1":-3.02,"m2":-3.55},{"x":2,"m025":4.5,"m05":1.9,"m1":-3.05,"m2":-3.58},{"x":2.2,"m025":4.75,"m05":1.8,"m1":-3.08,"m2":-3.55},{"x":2.4,"m025":4.9,"m05":1.72,"m1":-3.03,"m2":-3.52},{"x":2.6,"m025":5.05,"m05":1.35,"m1":-3.06,"m2":-3.55},{"x":2.8,"m025":5.35,"m05":1.28,"m1":-3.02,"m2":-3.5},{"x":3,"m025":5.3,"m05":1.15,"m1":-3.0,"m2":-3.48},
{"x":3.2,"m025":5.5,"m05":0.95,"m1":-2.95,"m2":-3.45},{"x":3.4,"m025":5.45,"m05":0.9,"m1":-2.97,"m2":-3.48},{"x":3.6,"m025":5.5,"m05":0.88,"m1":-2.92,"m2":-3.42},{"x":3.8,"m025":5.38,"m05":0.8,"m1":-2.9,"m2":-3.4},{"x":4,"m025":5.6,"m05":0.75,"m1":-2.9,"m2":-3.38},{"x":4.2,"m025":5.62,"m05":0.68,"m1":-2.88,"m2":-3.36},{"x":4.4,"m025":5.68,"m05":0.6,"m1":-2.85,"m2":-3.35},{"x":4.6,"m025":5.72,"m05":0.5,"m1":-2.82,"m2":-3.3},{"x":4.8,"m025":5.78,"m05":0.42,"m1":-2.78,"m2":-3.32},{"x":5,"m025":5.92,"m05":0.3,"m1":-2.75,"m2":-3.28},
{"x":5.2,"m025":5.8,"m05":0.25,"m1":-2.72,"m2":-3.25},{"x":5.4,"m025":5.9,"m05":0.2,"m1":-2.7,"m2":-3.28},{"x":5.6,"m025":5.8,"m05":0.18,"m1":-2.68,"m2":-3.22},{"x":5.8,"m025":5.88,"m05":0.15,"m1":-2.62,"m2":-3.25},{"x":6,"m025":5.85,"m05":0.02,"m1":-2.6,"m2":-3.2},{"x":6.2,"m025":5.78,"m05":0.1,"m1":-2.62,"m2":-3.22},{"x":6.4,"m025":5.7,"m05":0.18,"m1":-2.58,"m2":-3.25},{"x":6.6,"m025":5.62,"m05":0.3,"m1":-2.6,"m2":-3.28},{"x":6.8,"m025":5.6,"m05":0.38,"m1":-2.62,"m2":-3.25},{"x":7,"m025":5.65,"m05":0.4,"m1":-2.58,"m2":-3.3},
{"x":7.2,"m025":5.5,"m05":0.38,"m1":-2.6,"m2":-3.28},{"x":7.4,"m025":5.42,"m05":0.48,"m1":-2.56,"m2":-3.32},{"x":7.6,"m025":5.48,"m05":0.55,"m1":-2.58,"m2":-3.3},{"x":7.8,"m025":5.35,"m05":0.68,"m1":-2.55,"m2":-3.35},{"x":8,"m025":5.3,"m05":0.65,"m1":-2.56,"m2":-3.32},{"x":8.2,"m025":5.3,"m05":0.7,"m1":-2.55,"m2":-3.3},{"x":8.4,"m025":5.28,"m05":0.76,"m1":-2.52,"m2":-3.35},{"x":8.6,"m025":5.1,"m05":0.82,"m1":-2.55,"m2":-3.32},{"x":8.8,"m025":5.05,"m05":0.8,"m1":-2.5,"m2":-3.3},{"x":9,"m025":5.0,"m05":0.85,"m1":-2.48,"m2":-3.34},
{"x":9.2,"m025":5.05,"m05":0.75,"m1":-2.5,"m2":-3.3},{"x":9.4,"m025":4.9,"m05":0.92,"m1":-2.45,"m2":-3.35},{"x":9.6,"m025":4.82,"m05":1.0,"m1":-2.44,"m2":-3.32},{"x":9.8,"m025":4.7,"m05":1.12,"m1":-2.4,"m2":-3.36},{"x":10,"m025":4.6,"m05":1.08,"m1":-2.4,"m2":-3.34}],
"c3":[
{"x":0.1,"m025":1.35,"m05":2.45,"m1":-0.2,"m2":-3.6},{"x":0.2,"m025":1.5,"m05":2.6,"m1":-0.55,"m2":-3.75},{"x":0.3,"m025":1.7,"m05":2.75,"m1":-0.5,"m2":-3.7},{"x":0.4,"m025":1.6,"m05":2.55,"m1":-0.75,"m2":-3.8},{"x":0.5,"m025":1.75,"m05":2.85,"m1":-0.8,"m2":-3.75},{"x":0.6,"m025":1.7,"m05":2.7,"m1":-0.85,"m2":-3.78},{"x":0.7,"m025":1.95,"m05":2.8,"m1":-0.95,"m2":-3.72},{"x":0.8,"m025":2.0,"m05":2.9,"m1":-1.0,"m2":-3.75},{"x":0.9,"m025":1.85,"m05":2.65,"m1":-1.1,"m2":-3.7},{"x":1,"m025":2.4,"m05":2.75,"m1":-1.15,"m2":-3.68},
{"x":1.2,"m025":2.15,"m05":2.6,"m1":-1.3,"m2":-3.65},{"x":1.4,"m025":2.55,"m05":2.8,"m1":-1.4,"m2":-3.6},{"x":1.6,"m025":2.6,"m05":2.5,"m1":-1.45,"m2":-3.58},{"x":1.8,"m025":2.35,"m05":2.35,"m1":-1.6,"m2":-3.55},{"x":2,"m025":2.85,"m05":2.25,"m1":-1.65,"m2":-3.5},{"x":2.2,"m025":2.9,"m05":2.3,"m1":-1.75,"m2":-3.45},{"x":2.4,"m025":2.95,"m05":2.15,"m1":-1.82,"m2":-3.38},{"x":2.6,"m025":3.0,"m05":2.2,"m1":-1.9,"m2":-3.3},{"x":2.8,"m025":3.1,"m05":2.1,"m1":-1.95,"m2":-3.22},{"x":3,"m025":3.05,"m05":2.05,"m1":-2.0,"m2":-3.15},
{"x":3.2,"m025":3.2,"m05":2.0,"m1":-2.05,"m2":-3.05},{"x":3.4,"m025":3.15,"m05":1.95,"m1":-2.08,"m2":-2.95},{"x":3.6,"m025":3.3,"m05":2.0,"m1":-2.15,"m2":-2.85},{"x":3.8,"m025":3.1,"m05":1.9,"m1":-2.3,"m2":-2.78},{"x":4,"m025":3.3,"m05":1.85,"m1":-2.38,"m2":-2.7},{"x":4.2,"m025":3.2,"m05":1.9,"m1":-2.45,"m2":-2.6},{"x":4.4,"m025":3.28,"m05":1.85,"m1":-2.5,"m2":-2.5},{"x":4.6,"m025":3.15,"m05":1.8,"m1":-2.55,"m2":-2.42},{"x":4.8,"m025":3.05,"m05":1.9,"m1":-2.6,"m2":-2.35},{"x":5,"m025":2.9,"m05":1.8,"m1":-2.62,"m2":-2.28},
{"x":5.2,"m025":2.75,"m05":1.85,"m1":-2.58,"m2":-2.18},{"x":5.4,"m025":2.55,"m05":1.75,"m1":-2.55,"m2":-2.1},{"x":5.6,"m025":2.4,"m05":1.8,"m1":-2.52,"m2":-1.98},{"x":5.8,"m025":2.25,"m05":1.75,"m1":-2.48,"m2":-1.9},{"x":6,"m025":2.1,"m05":1.85,"m1":-2.45,"m2":-1.8},{"x":6.2,"m025":1.95,"m05":1.7,"m1":-2.42,"m2":-1.72},{"x":6.4,"m025":2.15,"m05":1.6,"m1":-2.38,"m2":-1.65},{"x":6.6,"m025":1.9,"m05":1.55,"m1":-2.35,"m2":-1.55},{"x":6.8,"m025":2.05,"m05":1.6,"m1":-2.3,"m2":-1.48},{"x":7,"m025":1.85,"m05":1.45,"m1":-2.25,"m2":-1.42},
{"x":7.2,"m025":2.0,"m05":1.5,"m1":-2.28,"m2":-1.38},{"x":7.4,"m025":1.85,"m05":1.4,"m1":-2.25,"m2":-1.35},{"x":7.6,"m025":1.75,"m05":1.45,"m1":-2.22,"m2":-1.3},{"x":7.8,"m025":1.95,"m05":1.35,"m1":-2.2,"m2":-1.2},{"x":8,"m025":1.8,"m05":1.4,"m1":-2.22,"m2":-1.15},{"x":8.2,"m025":1.85,"m05":1.3,"m1":-2.2,"m2":-1.12},{"x":8.4,"m025":1.72,"m05":1.35,"m1":-2.18,"m2":-1.1},{"x":8.6,"m025":1.85,"m05":1.25,"m1":-2.15,"m2":-1.05},{"x":8.8,"m025":1.7,"m05":1.3,"m1":-2.12,"m2":-1.0},{"x":9,"m025":1.75,"m05":1.2,"m1":-2.15,"m2":-0.98},
{"x":9.2,"m025":1.65,"m05":1.25,"m1":-2.1,"m2":-0.92},{"x":9.4,"m025":1.75,"m05":1.15,"m1":-2.08,"m2":-0.88},{"x":9.6,"m025":1.6,"m05":1.2,"m1":-2.1,"m2":-0.85},{"x":9.8,"m025":1.72,"m05":1.1,"m1":-2.05,"m2":-0.8},{"x":10,"m025":1.65,"m05":1.1,"m1":-2.02,"m2":-0.72}]
},
"vconcat":[
{"spacing":4,"hconcat":[
{"width":230,"height":378,"view":{"stroke":"#1a1a1a","strokeWidth":3},"data":{"name":"legA"},
"encoding":{"y":{"field":"i","type":"quantitative","scale":{"domain":[-0.65,11.6],"nice":false,"zero":false,"reverse":true},"axis":{"title":"(a)","labels":false,"ticks":false,"titleAngle":0,"titleAlign":"right","titleBaseline":"middle","titleFontSize":40,"titleFontWeight":"bold","titlePadding":4,"titleY":201}},"color":{"field":"set","type":"nominal","scale":{"domain":["left","middle","right"],"range":["#77ac30","#edb120","#4dbeee"]},"legend":null}},
"layer":[
{"transform":[{"filter":"datum.kind == 'line'"}],"mark":{"type":"rule","strokeWidth":4},"encoding":{"x":{"datum":0.05,"type":"quantitative","scale":{"domain":[0,1],"nice":false},"axis":null},"x2":{"datum":0.25}}},
{"transform":[{"filter":"datum.kind == 'square'"}],"mark":{"type":"point","shape":"square","filled":false,"size":80,"strokeWidth":2,"opacity":1},"encoding":{"x":{"datum":0.15,"type":"quantitative","axis":null}}},
{"transform":[{"filter":"datum.kind == 'dot'"}],"mark":{"type":"point","shape":"circle","filled":true,"size":30,"opacity":1},"encoding":{"x":{"datum":0.15,"type":"quantitative","axis":null}}},
{"transform":[{"filter":"datum.kind == 'cross'"}],"mark":{"type":"point","shape":"M-1,-1L1,1M-1,1L1,-1","filled":false,"size":110,"strokeWidth":1.6,"opacity":1},"encoding":{"x":{"datum":0.15,"type":"quantitative","axis":null}}},
{"mark":{"type":"text","align":"left","baseline":"middle","fontSize":24},"encoding":{"x":{"datum":0.27,"type":"quantitative","axis":null},"text":{"field":"label"},"color":{"value":"#000000"}}}]},
{"spacing":23,"bounds":"flush","hconcat":[
{"width":433,"height":378,"data":{"name":"a1"},"resolve":{"axis":{"x":"independent","y":"independent"}},"layer":[
{"mark":{"type":"line","color":"#77ac30","strokeWidth":3},"encoding":{"x":{"field":"x","type":"quantitative","scale":{"domain":[-0.5,10.5],"nice":false,"zero":false},"axis":{"orient":"bottom","values":[0,2,4,6,8,10],"title":null}},"y":{"field":"m025","type":"quantitative","scale":{"domain":[-4,6],"nice":false,"zero":false},"axis":{"orient":"left","values":[-3,-2,-1,0,1,2,3,4,5],"title":null}}}},
{"mark":{"type":"point","shape":"square","filled":false,"color":"#77ac30","size":160,"strokeWidth":2,"opacity":1},"encoding":{"x":{"field":"x","type":"quantitative","axis":{"orient":"top","values":[0,2,4,6,8,10],"title":null}},"y":{"field":"m05","type":"quantitative","axis":{"orient":"right","values":[-3,-2,-1,0,1,2,3,4,5],"title":null}}}},
{"mark":{"type":"point","shape":"circle","filled":true,"color":"#77ac30","size":36,"opacity":1},"encoding":{"x":{"field":"x","type":"quantitative","axis":null},"y":{"field":"m1","type":"quantitative","axis":null}}},
{"mark":{"type":"point","shape":"M-1,-1L1,1M-1,1L1,-1","filled":false,"color":"#77ac30","size":120,"strokeWidth":1.8,"opacity":1},"encoding":{"x":{"field":"x","type":"quantitative","axis":null},"y":{"field":"m2","type":"quantitative","axis":null}}},
{"mark":{"type":"rule","color":"#ff0000","strokeWidth":6,"strokeDash":[21,17]},"encoding":{"x":{"datum":-0.15,"type":"quantitative","axis":null},"x2":{"datum":10.85},"y":{"datum":0,"type":"quantitative","axis":null}}}]},
{"width":444,"height":378,"data":{"name":"a2"},"resolve":{"axis":{"x":"independent","y":"independent"}},"layer":[
{"mark":{"type":"line","color":"#edb120","strokeWidth":3},"encoding":{"x":{"field":"x","type":"quantitative","scale":{"domain":[-0.5,10.5],"nice":false,"zero":false},"axis":{"orient":"bottom","values":[0,2,4,6,8,10],"title":null}},"y":{"field":"m025","type":"quantitative","scale":{"domain":[-4,6],"nice":false,"zero":false},"axis":{"orient":"left","values":[-3,-2,-1,0,1,2,3,4,5],"title":null}}}},
{"mark":{"type":"point","shape":"square","filled":false,"color":"#edb120","size":160,"strokeWidth":2,"opacity":1},"encoding":{"x":{"field":"x","type":"quantitative","axis":{"orient":"top","values":[0,2,4,6,8,10],"title":null}},"y":{"field":"m05","type":"quantitative","axis":{"orient":"right","values":[-3,-2,-1,0,1,2,3,4,5],"title":null}}}},
{"mark":{"type":"point","shape":"circle","filled":true,"color":"#edb120","size":36,"opacity":1},"encoding":{"x":{"field":"x","type":"quantitative","axis":null},"y":{"field":"m1","type":"quantitative","axis":null}}},
{"mark":{"type":"point","shape":"M-1,-1L1,1M-1,1L1,-1","filled":false,"color":"#edb120","size":120,"strokeWidth":1.8,"opacity":1},"encoding":{"x":{"field":"x","type":"quantitative","axis":null},"y":{"field":"m2","type":"quantitative","axis":null}}},
{"mark":{"type":"rule","color":"#ff0000","strokeWidth":6,"strokeDash":[21,17]},"encoding":{"x":{"datum":-0.85,"type":"quantitative","axis":null},"x2":{"datum":10.85},"y":{"datum":0,"type":"quantitative","axis":null}}}]},
{"width":446,"height":378,"data":{"name":"a3"},"resolve":{"axis":{"x":"independent","y":"independent"}},"layer":[
{"mark":{"type":"line","color":"#4dbeee","strokeWidth":3},"encoding":{"x":{"field":"x","type":"quantitative","scale":{"domain":[-0.5,10.5],"nice":false,"zero":false},"axis":{"orient":"bottom","values":[0,2,4,6,8,10],"title":null}},"y":{"field":"m025","type":"quantitative","scale":{"domain":[-4,6],"nice":false,"zero":false},"axis":{"orient":"left","values":[-3,-2,-1,0,1,2,3,4,5],"title":null}}}},
{"mark":{"type":"point","shape":"square","filled":false,"color":"#4dbeee","size":160,"strokeWidth":2,"opacity":1},"encoding":{"x":{"field":"x","type":"quantitative","axis":{"orient":"top","values":[0,2,4,6,8,10],"title":null}},"y":{"field":"m05","type":"quantitative","axis":{"orient":"right","values":[-3,-2,-1,0,1,2,3,4,5],"title":null}}}},
{"mark":{"type":"point","shape":"circle","filled":true,"color":"#4dbeee","size":36,"opacity":1},"encoding":{"x":{"field":"x","type":"quantitative","axis":null},"y":{"field":"m1","type":"quantitative","axis":null}}},
{"mark":{"type":"point","shape":"M-1,-1L1,1M-1,1L1,-1","filled":false,"color":"#4dbeee","size":120,"strokeWidth":1.8,"opacity":1},"encoding":{"x":{"field":"x","type":"quantitative","axis":null},"y":{"field":"m2","type":"quantitative","axis":null}}},
{"mark":{"type":"rule","color":"#ff0000","strokeWidth":6,"strokeDash":[21,17]},"encoding":{"x":{"datum":-0.85,"type":"quantitative","axis":null},"x2":{"datum":10.3},"y":{"datum":0,"type":"quantitative","axis":{"orient":"right","values":[0],"ticks":false,"labels":true,"labelFontSize":44,"labelPadding":6,"title":null}}}}]}
]}]},
{"spacing":4,"hconcat":[
{"width":230,"height":374,"view":{"stroke":"#1a1a1a","strokeWidth":3},"data":{"name":"legB"},
"encoding":{"y":{"field":"i","type":"quantitative","scale":{"domain":[-0.65,11.6],"nice":false,"zero":false,"reverse":true},"axis":{"title":"(b)","labels":false,"ticks":false,"titleAngle":0,"titleAlign":"right","titleBaseline":"middle","titleFontSize":40,"titleFontWeight":"bold","titlePadding":4,"titleY":207}},"color":{"field":"set","type":"nominal","scale":{"domain":["left","middle","right"],"range":["#77ac30","#edb120","#4dbeee"]},"legend":null}},
"layer":[
{"transform":[{"filter":"datum.kind == 'line'"}],"mark":{"type":"rule","strokeWidth":4},"encoding":{"x":{"datum":0.05,"type":"quantitative","scale":{"domain":[0,1],"nice":false},"axis":null},"x2":{"datum":0.25}}},
{"transform":[{"filter":"datum.kind == 'square'"}],"mark":{"type":"point","shape":"square","filled":false,"size":80,"strokeWidth":2,"opacity":1},"encoding":{"x":{"datum":0.15,"type":"quantitative","axis":null}}},
{"transform":[{"filter":"datum.kind == 'dot'"}],"mark":{"type":"point","shape":"circle","filled":true,"size":30,"opacity":1},"encoding":{"x":{"datum":0.15,"type":"quantitative","axis":null}}},
{"transform":[{"filter":"datum.kind == 'cross'"}],"mark":{"type":"point","shape":"M-1,-1L1,1M-1,1L1,-1","filled":false,"size":110,"strokeWidth":1.6,"opacity":1},"encoding":{"x":{"datum":0.15,"type":"quantitative","axis":null}}},
{"mark":{"type":"text","align":"left","baseline":"middle","fontSize":24},"encoding":{"x":{"datum":0.27,"type":"quantitative","axis":null},"text":{"field":"label"},"color":{"value":"#000000"}}}]},
{"spacing":23,"bounds":"flush","hconcat":[
{"width":433,"height":374,"data":{"name":"b1"},"resolve":{"axis":{"x":"independent","y":"independent"}},"layer":[
{"mark":{"type":"line","color":"#77ac30","strokeWidth":3},"encoding":{"x":{"field":"x","type":"quantitative","scale":{"domain":[-0.5,10.5],"nice":false,"zero":false},"axis":{"orient":"bottom","values":[0,2,4,6,8,10],"title":null}},"y":{"field":"m025","type":"quantitative","scale":{"domain":[-2.84,5.18],"nice":false,"zero":false},"axis":{"orient":"left","values":[-1.83,-0.83,0.17,1.17,2.17,3.17,4.17],"title":null}}}},
{"mark":{"type":"point","shape":"square","filled":false,"color":"#77ac30","size":160,"strokeWidth":2,"opacity":1},"encoding":{"x":{"field":"x","type":"quantitative","axis":{"orient":"top","values":[0,2,4,6,8,10],"title":null}},"y":{"field":"m05","type":"quantitative","axis":{"orient":"right","values":[-1.83,-0.83,0.17,1.17,2.17,3.17,4.17],"title":null}}}},
{"mark":{"type":"point","shape":"circle","filled":true,"color":"#77ac30","size":36,"opacity":1},"encoding":{"x":{"field":"x","type":"quantitative","axis":null},"y":{"field":"m1","type":"quantitative","axis":null}}},
{"mark":{"type":"point","shape":"M-1,-1L1,1M-1,1L1,-1","filled":false,"color":"#77ac30","size":120,"strokeWidth":1.8,"opacity":1},"encoding":{"x":{"field":"x","type":"quantitative","axis":null},"y":{"field":"m2","type":"quantitative","axis":null}}},
{"mark":{"type":"rule","color":"#ff0000","strokeWidth":6,"strokeDash":[21,17]},"encoding":{"x":{"datum":-0.15,"type":"quantitative","axis":null},"x2":{"datum":10.85},"y":{"datum":0,"type":"quantitative","axis":null}}}]},
{"width":444,"height":374,"data":{"name":"b2"},"resolve":{"axis":{"x":"independent","y":"independent"}},"layer":[
{"mark":{"type":"line","color":"#edb120","strokeWidth":3},"encoding":{"x":{"field":"x","type":"quantitative","scale":{"domain":[-0.5,10.5],"nice":false,"zero":false},"axis":{"orient":"bottom","values":[0,2,4,6,8,10],"title":null}},"y":{"field":"m025","type":"quantitative","scale":{"domain":[-2.84,5.18],"nice":false,"zero":false},"axis":{"orient":"left","values":[-1.83,-0.83,0.17,1.17,2.17,3.17,4.17],"title":null}}}},
{"mark":{"type":"point","shape":"square","filled":false,"color":"#edb120","size":160,"strokeWidth":2,"opacity":1},"encoding":{"x":{"field":"x","type":"quantitative","axis":{"orient":"top","values":[0,2,4,6,8,10],"title":null}},"y":{"field":"m05","type":"quantitative","axis":{"orient":"right","values":[-1.83,-0.83,0.17,1.17,2.17,3.17,4.17],"title":null}}}},
{"mark":{"type":"point","shape":"circle","filled":true,"color":"#edb120","size":36,"opacity":1},"encoding":{"x":{"field":"x","type":"quantitative","axis":null},"y":{"field":"m1","type":"quantitative","axis":null}}},
{"mark":{"type":"point","shape":"M-1,-1L1,1M-1,1L1,-1","filled":false,"color":"#edb120","size":120,"strokeWidth":1.8,"opacity":1},"encoding":{"x":{"field":"x","type":"quantitative","axis":null},"y":{"field":"m2","type":"quantitative","axis":null}}},
{"mark":{"type":"rule","color":"#ff0000","strokeWidth":6,"strokeDash":[21,17]},"encoding":{"x":{"datum":-0.85,"type":"quantitative","axis":null},"x2":{"datum":10.85},"y":{"datum":0,"type":"quantitative","axis":null}}}]},
{"width":446,"height":374,"data":{"name":"b3"},"resolve":{"axis":{"x":"independent","y":"independent"}},"layer":[
{"mark":{"type":"line","color":"#4dbeee","strokeWidth":3},"encoding":{"x":{"field":"x","type":"quantitative","scale":{"domain":[-0.5,10.5],"nice":false,"zero":false},"axis":{"orient":"bottom","values":[0,2,4,6,8,10],"title":null}},"y":{"field":"m025","type":"quantitative","scale":{"domain":[-2.84,5.18],"nice":false,"zero":false},"axis":{"orient":"left","values":[-1.83,-0.83,0.17,1.17,2.17,3.17,4.17],"title":null}}}},
{"mark":{"type":"point","shape":"square","filled":false,"color":"#4dbeee","size":160,"strokeWidth":2,"opacity":1},"encoding":{"x":{"field":"x","type":"quantitative","axis":{"orient":"top","values":[0,2,4,6,8,10],"title":null}},"y":{"field":"m05","type":"quantitative","axis":{"orient":"right","values":[-1.83,-0.83,0.17,1.17,2.17,3.17,4.17],"title":null}}}},
{"mark":{"type":"point","shape":"circle","filled":true,"color":"#4dbeee","size":36,"opacity":1},"encoding":{"x":{"field":"x","type":"quantitative","axis":null},"y":{"field":"m1","type":"quantitative","axis":null}}},
{"mark":{"type":"point","shape":"M-1,-1L1,1M-1,1L1,-1","filled":false,"color":"#4dbeee","size":120,"strokeWidth":1.8,"opacity":1},"encoding":{"x":{"field":"x","type":"quantitative","axis":null},"y":{"field":"m2","type":"quantitative","axis":null}}},
{"mark":{"type":"rule","color":"#ff0000","strokeWidth":6,"strokeDash":[21,17]},"encoding":{"x":{"datum":-0.85,"type":"quantitative","axis":null},"x2":{"datum":10.3},"y":{"datum":0,"type":"quantitative","axis":{"orient":"right","values":[0],"ticks":false,"labels":true,"labelFontSize":44,"labelPadding":6,"title":null}}}}]}
]}]},
{"spacing":4,"hconcat":[
{"width":230,"height":381,"view":{"stroke":"#1a1a1a","strokeWidth":3},"data":{"name":"legC"},
"encoding":{"y":{"field":"i","type":"quantitative","scale":{"domain":[-0.65,11.6],"nice":false,"zero":false,"reverse":true},"axis":{"title":"(c)","labels":false,"ticks":false,"titleAngle":0,"titleAlign":"right","titleBaseline":"middle","titleFontSize":40,"titleFontWeight":"bold","titlePadding":4}},"color":{"field":"set","type":"nominal","scale":{"domain":["left","middle","right"],"range":["#77ac30","#edb120","#4dbeee"]},"legend":null}},
"layer":[
{"transform":[{"filter":"datum.kind == 'line'"}],"mark":{"type":"rule","strokeWidth":4},"encoding":{"x":{"datum":0.05,"type":"quantitative","scale":{"domain":[0,1],"nice":false},"axis":null},"x2":{"datum":0.25}}},
{"transform":[{"filter":"datum.kind == 'square'"}],"mark":{"type":"point","shape":"square","filled":false,"size":80,"strokeWidth":2,"opacity":1},"encoding":{"x":{"datum":0.15,"type":"quantitative","axis":null}}},
{"transform":[{"filter":"datum.kind == 'dot'"}],"mark":{"type":"point","shape":"circle","filled":true,"size":30,"opacity":1},"encoding":{"x":{"datum":0.15,"type":"quantitative","axis":null}}},
{"transform":[{"filter":"datum.kind == 'cross'"}],"mark":{"type":"point","shape":"M-1,-1L1,1M-1,1L1,-1","filled":false,"size":110,"strokeWidth":1.6,"opacity":1},"encoding":{"x":{"datum":0.15,"type":"quantitative","axis":null}}},
{"mark":{"type":"text","align":"left","baseline":"middle","fontSize":24},"encoding":{"x":{"datum":0.27,"type":"quantitative","axis":null},"text":{"field":"label"},"color":{"value":"#000000"}}}]},
{"spacing":23,"bounds":"flush","hconcat":[
{"width":433,"height":381,"data":{"name":"c1"},"resolve":{"axis":{"x":"independent","y":"independent"}},"layer":[
{"mark":{"type":"line","color":"#77ac30","strokeWidth":3},"encoding":{"x":{"field":"x","type":"quantitative","scale":{"domain":[-0.5,10.5],"nice":false,"zero":false},"axis":{"orient":"bottom","values":[0,2,4,6,8,10],"labels":true,"labelFontSize":40,"labelPadding":8,"labelFlush":false,"title":null}},"y":{"field":"m025","type":"quantitative","scale":{"domain":[-4,6],"nice":false,"zero":false},"axis":{"orient":"left","values":[-3,-2,-1,0,1,2,3,4,5],"title":null}}}},
{"mark":{"type":"point","shape":"square","filled":false,"color":"#77ac30","size":160,"strokeWidth":2,"opacity":1},"encoding":{"x":{"field":"x","type":"quantitative","axis":{"orient":"top","values":[0,2,4,6,8,10],"title":null}},"y":{"field":"m05","type":"quantitative","axis":{"orient":"right","values":[-3,-2,-1,0,1,2,3,4,5],"title":null}}}},
{"mark":{"type":"point","shape":"circle","filled":true,"color":"#77ac30","size":36,"opacity":1},"encoding":{"x":{"field":"x","type":"quantitative","axis":null},"y":{"field":"m1","type":"quantitative","axis":null}}},
{"mark":{"type":"point","shape":"M-1,-1L1,1M-1,1L1,-1","filled":false,"color":"#77ac30","size":120,"strokeWidth":1.8,"opacity":1},"encoding":{"x":{"field":"x","type":"quantitative","axis":null},"y":{"field":"m2","type":"quantitative","axis":null}}},
{"mark":{"type":"rule","color":"#ff0000","strokeWidth":6,"strokeDash":[21,17]},"encoding":{"x":{"datum":-0.15,"type":"quantitative","axis":null},"x2":{"datum":10.85},"y":{"datum":0,"type":"quantitative","axis":null}}}]},
{"width":444,"height":381,"data":{"name":"c2"},"resolve":{"axis":{"x":"independent","y":"independent"}},"layer":[
{"mark":{"type":"line","color":"#edb120","strokeWidth":3},"encoding":{"x":{"field":"x","type":"quantitative","scale":{"domain":[-0.5,10.5],"nice":false,"zero":false},"axis":{"orient":"bottom","values":[0,2,4,6,8,10],"labels":true,"labelFontSize":40,"labelPadding":8,"labelFlush":false,"title":"Frequency (HZ)","titleFontSize":40,"titleFontWeight":"normal","titlePadding":10,"titleX":250}},"y":{"field":"m025","type":"quantitative","scale":{"domain":[-4,6],"nice":false,"zero":false},"axis":{"orient":"left","values":[-3,-2,-1,0,1,2,3,4,5],"title":null}}}},
{"mark":{"type":"point","shape":"square","filled":false,"color":"#edb120","size":160,"strokeWidth":2,"opacity":1},"encoding":{"x":{"field":"x","type":"quantitative","axis":{"orient":"top","values":[0,2,4,6,8,10],"title":null}},"y":{"field":"m05","type":"quantitative","axis":{"orient":"right","values":[-3,-2,-1,0,1,2,3,4,5],"title":null}}}},
{"mark":{"type":"point","shape":"circle","filled":true,"color":"#edb120","size":36,"opacity":1},"encoding":{"x":{"field":"x","type":"quantitative","axis":null},"y":{"field":"m1","type":"quantitative","axis":null}}},
{"mark":{"type":"point","shape":"M-1,-1L1,1M-1,1L1,-1","filled":false,"color":"#edb120","size":120,"strokeWidth":1.8,"opacity":1},"encoding":{"x":{"field":"x","type":"quantitative","axis":null},"y":{"field":"m2","type":"quantitative","axis":null}}},
{"mark":{"type":"rule","color":"#ff0000","strokeWidth":6,"strokeDash":[21,17]},"encoding":{"x":{"datum":-0.85,"type":"quantitative","axis":null},"x2":{"datum":10.85},"y":{"datum":0,"type":"quantitative","axis":null}}}]},
{"width":446,"height":381,"data":{"name":"c3"},"resolve":{"axis":{"x":"independent","y":"independent"}},"layer":[
{"mark":{"type":"line","color":"#4dbeee","strokeWidth":3},"encoding":{"x":{"field":"x","type":"quantitative","scale":{"domain":[-0.5,10.5],"nice":false,"zero":false},"axis":{"orient":"bottom","values":[0,2,4,6,8,10],"labels":true,"labelFontSize":40,"labelPadding":8,"labelFlush":false,"title":null}},"y":{"field":"m025","type":"quantitative","scale":{"domain":[-4,6],"nice":false,"zero":false},"axis":{"orient":"left","values":[-3,-2,-1,0,1,2,3,4,5],"title":null}}}},
{"mark":{"type":"point","shape":"square","filled":false,"color":"#4dbeee","size":160,"strokeWidth":2,"opacity":1},"encoding":{"x":{"field":"x","type":"quantitative","axis":{"orient":"top","values":[0,2,4,6,8,10],"title":null}},"y":{"field":"m05","type":"quantitative","axis":{"orient":"right","values":[-3,-2,-1,0,1,2,3,4,5],"title":null}}}},
{"mark":{"type":"point","shape":"circle","filled":true,"color":"#4dbeee","size":36,"opacity":1},"encoding":{"x":{"field":"x","type":"quantitative","axis":null},"y":{"field":"m1","type":"quantitative","axis":null}}},
{"mark":{"type":"point","shape":"M-1,-1L1,1M-1,1L1,-1","filled":false,"color":"#4dbeee","size":120,"strokeWidth":1.8,"opacity":1},"encoding":{"x":{"field":"x","type":"quantitative","axis":null},"y":{"field":"m2","type":"quantitative","axis":null}}},
{"mark":{"type":"rule","color":"#ff0000","strokeWidth":6,"strokeDash":[21,17]},"encoding":{"x":{"datum":-0.85,"type":"quantitative","axis":null},"x2":{"datum":10.3},"y":{"datum":0,"type":"quantitative","axis":{"orient":"right","values":[0],"ticks":false,"labels":true,"labelFontSize":44,"labelPadding":6,"title":null}}}}]}
]}]}
],
"spacing":9
}
